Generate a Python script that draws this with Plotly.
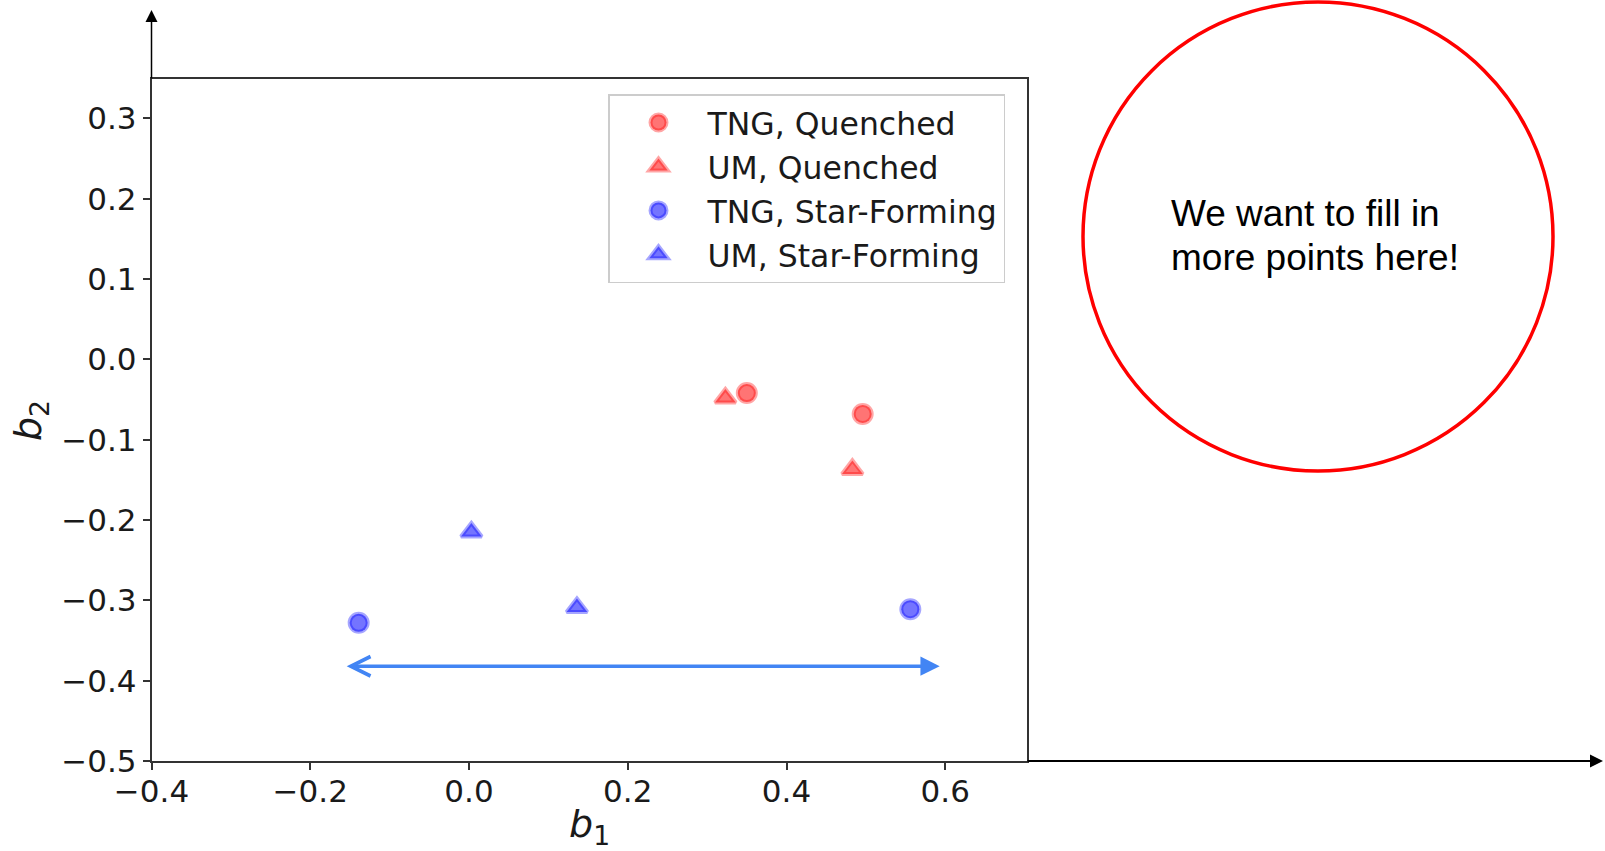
import plotly.graph_objects as go

W, H = 1605, 851

# ---- data ----
tng_q_x = [0.350, 0.496]
tng_q_y = [-0.042, -0.068]
um_q_x = [0.323, 0.483]
um_q_y = [-0.048, -0.137]
tng_sf_x = [-0.139, 0.556]
tng_sf_y = [-0.328, -0.311]
um_sf_x = [0.003, 0.136]
um_sf_y = [-0.215, -0.309]

series_names = ["TNG, Quenched", "UM, Quenched", "TNG, Star-Forming", "UM, Star-Forming"]
x_ticks = [-0.4, -0.2, 0.0, 0.2, 0.4, 0.6]
y_ticks = [-0.5, -0.4, -0.3, -0.2, -0.1, 0.0, 0.1, 0.2, 0.3]
x_range = [-0.4, 0.703]
y_range = [-0.5, 0.349]
span_arrow_x = [-0.156, 0.593]
span_arrow_y = -0.382

note_lines = ["We want to fill in", "more points here!"]


def px(x):
    return x / W


def py(y):
    return 1 - y / H


RED_FILL = "rgba(255,30,30,0.62)"
RED_EDGE = "rgba(255,0,0,0.35)"
BLUE_FILL = "rgba(30,30,255,0.62)"
BLUE_EDGE = "rgba(0,0,255,0.35)"

fig = go.Figure()
specs = [
    (tng_q_x, tng_q_y, "circle", RED_FILL, RED_EDGE),
    (um_q_x, um_q_y, "triangle-up", RED_FILL, RED_EDGE),
    (tng_sf_x, tng_sf_y, "circle", BLUE_FILL, BLUE_EDGE),
    (um_sf_x, um_sf_y, "triangle-up", BLUE_FILL, BLUE_EDGE),
]
for name, (xs, ys, sym, fc, ec) in zip(series_names, specs):
    fig.add_trace(go.Scatter(
        x=xs, y=ys, mode="markers", name=name,
        marker=dict(symbol=sym, size=18, color=fc, line=dict(color=ec, width=4)),
    ))

tick_font = dict(family="DejaVu Sans", size=31, color="#1a1a1a")

fig.update_layout(
    width=W, height=H,
    margin=dict(l=0, r=0, t=0, b=0),
    paper_bgcolor="white", plot_bgcolor="white",
    showlegend=True,
    legend=dict(
        x=px(608), y=py(94), xanchor="left", yanchor="top",
        font=dict(family="DejaVu Sans", size=31.5, color="#1a1a1a"),
        bgcolor="white", bordercolor="#cccccc", borderwidth=1.5,
        itemwidth=88, tracegroupgap=0,
    ),
    xaxis=dict(
        domain=[px(151.5), px(1027)], range=x_range,
        tickvals=x_ticks, tickformat=".1f",
        showgrid=False, zeroline=False,
        showline=True, linecolor="#333333", linewidth=1.5, mirror=True,
        ticks="outside", ticklen=7, tickwidth=1.5, tickcolor="#333333",
        tickfont=tick_font, automargin=False, ticklabelstandoff=-5,
    ),
    yaxis=dict(
        domain=[py(761), py(79)], range=y_range,
        tickvals=y_ticks, tickformat=".1f",
        showgrid=False, zeroline=False,
        showline=True, linecolor="#333333", linewidth=1.5, mirror=True,
        ticks="outside", ticklen=7, tickwidth=1.5, tickcolor="#333333",
        tickfont=tick_font, automargin=False,
    ),
)

annotations = []
# axis titles
annotations.append(dict(
    text="<i>b</i><sub>1</sub>", x=px(589), y=py(826), xref="paper", yref="paper",
    showarrow=False, xanchor="center", yanchor="middle",
    font=dict(family="DejaVu Sans", size=38, color="#1a1a1a"),
))
annotations.append(dict(
    text="<i>b</i><sub>2</sub>", x=px(30), y=py(420), xref="paper", yref="paper",
    showarrow=False, xanchor="center", yanchor="middle", textangle=-90,
    font=dict(family="DejaVu Sans", size=38, color="#1a1a1a"),
))
# extended y-axis arrow
annotations.append(dict(
    x=px(151.5), y=py(10), xref="paper", yref="paper",
    ax=0, ay=70, axref="pixel", ayref="pixel",
    showarrow=True, arrowhead=2, arrowsize=1.6, arrowwidth=1.5, arrowcolor="black", text="",
))
# extended x-axis arrow
annotations.append(dict(
    x=px(1603), y=py(761), xref="paper", yref="paper",
    ax=-577, ay=0, axref="pixel", ayref="pixel",
    showarrow=True, arrowhead=2, arrowsize=1.3, arrowwidth=2, arrowcolor="black", text="",
))
# blue double arrow in data coordinates
annotations.append(dict(
    x=span_arrow_x[1], y=span_arrow_y, xref="x", yref="y",
    ax=span_arrow_x[0], ay=span_arrow_y, axref="x", ayref="y",
    showarrow=True, arrowside="end+start", arrowhead=2, startarrowhead=5,
    arrowsize=1.1, startarrowsize=1.1, arrowwidth=3.5, arrowcolor="#4285F4", text="",
))
# note text inside red circle
for i, line in enumerate(note_lines):
    annotations.append(dict(
        text=line, x=px(1169), y=py(214 + 44 * i), xref="paper", yref="paper",
        showarrow=False, xanchor="left", yanchor="middle",
        font=dict(family="Liberation Sans", size=37, color="black"),
    ))
fig.update_layout(annotations=annotations)

fig.add_shape(
    type="circle", xref="paper", yref="paper",
    x0=px(1083), x1=px(1553), y0=py(471), y1=py(2),
    line=dict(color="#ff0000", width=3.5), fillcolor="rgba(0,0,0,0)",
)

fig.write_html("out.html")
